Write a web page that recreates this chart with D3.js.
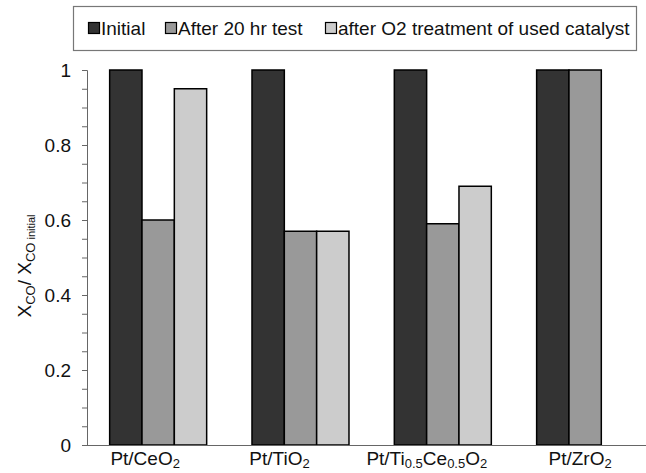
<!DOCTYPE html>
<html><head><meta charset="utf-8">
<script src="https://cdn.jsdelivr.net/npm/d3@7"></script>
<style>body{margin:0;background:#fff}svg{display:block;font-family:"Liberation Sans",Arial,sans-serif}</style>
</head><body>
<svg id="c" width="646" height="473"></svg>
<script>
const categories = ["CeO2","TiO2","TiCe","ZrO2"];
const seriesNames = ["Initial","After 20 hr test","after O2 treatment of used catalyst"];
const initial = [1, 1, 1, 1];
const after20 = [0.6, 0.57, 0.59, 1];
const afterO2 = [0.95, 0.57, 0.69, 0];
const colors = ["#333333","#999999","#cccccc"];
const yTicks = [0, 0.2, 0.4, 0.6, 0.8, 1];
const labelNudge = [-13, -21, -16, -5];

const svg = d3.select("#c");
const x = d3.scaleBand().domain(categories).range([87, 656.3]).paddingInner(0).paddingOuter(0);
const y = d3.scaleLinear().domain([0,1]).range([445, 70]);
const groupW = 97;
const xs = d3.scaleBand().domain([0,1,2]).range([0, groupW]);
const series = [initial, after20, afterO2];

// bars
series.forEach((vals, si) => {
  svg.append("g").selectAll("rect").data(categories.map((c,i)=>({c, v: vals[i]})).filter(d => d.v > 0)).join("rect")
    .attr("x", d => x(d.c) + (x.bandwidth()-groupW)/2 + xs(si))
    .attr("width", xs.bandwidth())
    .attr("y", d => y(d.v))
    .attr("height", d => y(0) - y(d.v))
    .attr("fill", colors[si]).attr("stroke", "#000").attr("stroke-width", 1.5);
});

// y axis with minor ticks
const yAxisMinor = d3.axisLeft(y).tickValues(d3.range(0, 1.0001, 0.05)).tickSize(5).tickFormat("");
svg.append("g").attr("transform","translate(87,0)").call(yAxisMinor)
  .call(g => g.selectAll("line").attr("stroke","#666"))
  .call(g => g.select(".domain").attr("stroke","#666"));
const yAxis = d3.axisLeft(y).tickValues(yTicks).tickSize(0).tickPadding(16).tickFormat(d => d === 0 || d === 1 ? String(d) : d3.format(".1f")(d));
svg.append("g").attr("transform","translate(87,0)").call(yAxis)
  .call(g => g.select(".domain").remove())
  .call(g => g.selectAll("text").attr("font-size", 19).attr("fill","#111").attr("font-family","Liberation Sans, Arial, sans-serif"));

// x axis line
svg.append("line").attr("x1",87).attr("x2",646).attr("y1",445.5).attr("y2",445.5).attr("stroke","#666");

// category labels with subscripts
const catLabels = {
  CeO2: [["Pt/CeO",0],["2",1]],
  TiO2: [["Pt/TiO",0],["2",1]],
  TiCe: [["Pt/Ti",0],["0.5",1],["Ce",0],["0.5",1],["O",0],["2",1]],
  ZrO2: [["Pt/ZrO",0],["2",1]]
};
categories.forEach((c, ci) => {
  const t = svg.append("text").attr("x", x(c) + x.bandwidth()/2 + labelNudge[ci]).attr("y", 465)
    .attr("text-anchor","middle").attr("font-size",19).attr("fill","#111");
  catLabels[c].forEach(([s, sub], k) => {
    t.append("tspan").text(s).attr("font-size", sub ? 13 : 19)
      .attr("dy", sub ? 3 : (k > 0 ? -3 : 0));
  });
});

// y axis title
const yt = svg.append("text").attr("transform","translate(31,266) rotate(-90)")
  .attr("text-anchor","middle").attr("font-size",19).attr("fill","#111");
yt.append("tspan").text("X");
yt.append("tspan").text("CO").attr("font-size",13).attr("dy",4);
yt.append("tspan").text("/ X").attr("dy",-4);
yt.append("tspan").text("CO").attr("font-size",13).attr("dy",4);
yt.append("tspan").text(" initial").attr("font-size",11);

// legend
const lg = svg.append("g");
lg.append("rect").attr("x",73.5).attr("y",6.5).attr("width",563).attr("height",44)
  .attr("fill","#fff").attr("stroke","#777").attr("stroke-width",1.2);
const legX = [88, 165, 325];
seriesNames.forEach((n,i) => {
  lg.append("rect").attr("x",legX[i]+0.5).attr("y",22.5).attr("width",11).attr("height",11)
    .attr("fill",colors[i]).attr("stroke","#000").attr("stroke-width",1.2);
  lg.append("text").attr("x",legX[i]+13).attr("y",35).attr("font-size",19).attr("fill","#111").text(n);
});
</script>
</body></html>
